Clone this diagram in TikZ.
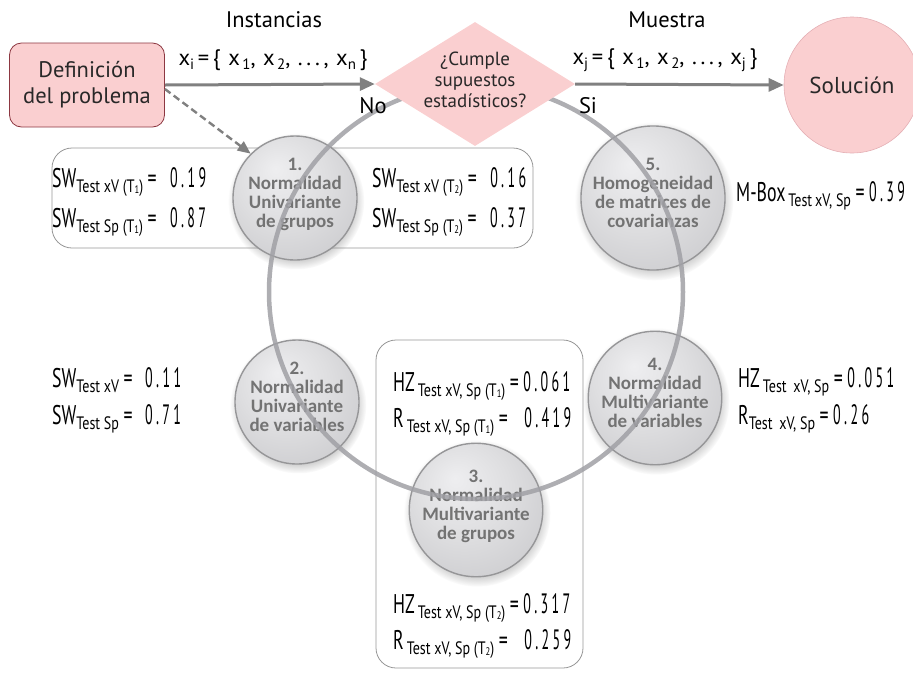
\documentclass[tikz,border=0pt]{standalone}
\usepackage{fontspec}
\setmainfont{PT Sans}
\newfontfamily\cnd[FakeStretch=0.66]{PT Sans}
\newfontfamily\cndsub[FakeStretch=0.78]{PT Sans}
\newfontfamily\cndnum[FakeStretch=0.5,LetterSpace=12]{PT Sans}
\newfontfamily\sphfam{Carlito}
\usetikzlibrary{shapes.geometric,arrows.meta,shadows}

\definecolor{pinkfill}{RGB}{250,207,208}
\definecolor{defedge}{RGB}{140,55,65}
\definecolor{soledge}{RGB}{228,175,180}
\definecolor{flowgray}{RGB}{128,128,128}
\definecolor{ringgray}{RGB}{160,160,165}
\definecolor{boxedge}{RGB}{150,150,150}
\definecolor{sphtext}{RGB}{115,115,115}
\definecolor{sphrim}{RGB}{150,150,152}
\definecolor{sphA}{RGB}{238,238,240}
\definecolor{sphB}{RGB}{222,222,224}
\definecolor{sphC}{RGB}{200,200,203}
\definecolor{sphD}{RGB}{182,182,185}
\definecolor{darktext}{RGB}{40,40,40}

\pgfdeclareradialshading{sphereshade}{\pgfpoint{-8bp}{12bp}}{%
  color(0bp)=(sphA); color(18bp)=(sphB); color(38bp)=(sphC);
  color(46bp)=(sphD); color(50bp)=(sphD)}

% formula fonts
\newcommand\bigf{\cnd\fontsize{27}{29}\selectfont}
\newcommand\subf{\cndsub\fontsize{18}{20}\selectfont}
\newcommand\numf{\cndnum\fontsize{28}{30}\selectfont}
\newcommand\tinyf{\cndsub\fontsize{11}{12}\selectfont}
\newcommand\stat[4]{{\bigf #1}\raisebox{-5pt}{\subf #2}{\bigf\,=\,}\hspace{#3}{\numf #4}}
\newcommand\Tsub[1]{T\raisebox{-1.5pt}{\tinyf #1}}
\newcommand\setsub[1]{\raisebox{-4pt}{\fontsize{15}{17}\selectfont #1}}

\tikzset{
  defbox/.style={draw=defedge, fill=pinkfill, rounded corners=12pt, line width=0.8pt,
    minimum width=155pt, minimum height=84pt, align=center, text=darktext,
    font=\fontsize{22.5}{26}\selectfont},
  solnode/.style={circle, draw=soledge, fill=pinkfill, line width=0.6pt,
    minimum size=136pt, inner sep=0pt, text=darktext, font=\fontsize{23}{26}\selectfont},
  question/.style={diamond, fill=pinkfill, minimum width=200pt, minimum height=124pt,
    inner sep=0pt},
  label/.style={text=black, font=\fontsize{22.5}{26}\selectfont},
  flow/.style={draw=flowgray, line width=3pt, -{Triangle[length=15pt,width=13pt]}},
  dashflow/.style={draw=flowgray, line width=2.4pt, dashed, dash pattern=on 7pt off 4pt,
    -{Triangle[length=13pt,width=11pt]}},
  group/.style={draw=boxedge, line width=0.8pt, rounded corners=20pt},
  sphere/.style={circle, minimum size=124pt, inner sep=0pt, draw=sphrim, line width=1.4pt,
    shade, shading=sphereshade, align=center, text=sphtext, text depth=10pt,
    font=\sphfam\bfseries\fontsize{19}{19}\selectfont,
    circular drop shadow={shadow xshift=1pt, shadow yshift=-3pt, opacity=0.35, fill=black!55}},
  ring/.style={draw=ringgray, line width=4.5pt, opacity=0.85},
  stat/.style={anchor=base west, inner sep=0pt, text=black},
}

\begin{document}
\begin{tikzpicture}[x=1pt,y=-1pt]
\useasboundingbox (0,0) rectangle (913,673);

% grouping frames
\node[group, minimum width=481pt, minimum height=100pt] (g1) at (292.5,198) {};
\node[group, minimum width=207pt, minimum height=328pt] (g3) at (479.5,504) {};

% the five test stages
\node[sphere] (n1) at (295,198) {1.\\Normalidad\\Univariante\\de grupos};
\node[sphere] (n2) at (297,402) {2.\\Normalidad\\Univariante\\de variables};
\node[sphere] (n3) at (476,510) {3.\\Normalidad\\Multivariante\\de grupos};
\node[sphere] (n4) at (655,398) {4.\\Normalidad\\Multivariante\\de variables};
\node[sphere] (n5) at (653,198) {5.\\Homogeneidad\\de matrices de\\covarianzas};

% cycle through the stages
\coordinate (rc) at (476,292);
\draw[ring] (rc) circle[radius=207pt];

% decision flow
\node[defbox] (def) at (87,85) {Definición\\del problema};
\node[question] (q) at (475,84) {};
\node[align=center, text=darktext, font=\fontsize{19}{21}\selectfont] (qt) at (475,80)
  {¿Cumple\\supuestos\\estadísticos?};
\node[solnode] (sol) at (852,85) {Solución};

\draw[flow] (def.east) -- (q.west);
\draw[flow] (q.east) -- (sol.west);
\draw[dashflow] ([yshift=-4pt]def.east) -- (n1.135);

\node[label] (inst) at (274,20) {Instancias};
\node[label] (mues) at (667,20) {Muestra};
\node[label] (xi) at (273,60) {x\setsub{i}\,=\,\{\,\,x\setsub{\,1},\,\,x\setsub{\,2},\,\,.\,.\,.\,,\,\,x\setsub{n}\,\}};
\node[label] (xj) at (665,60) {x\setsub{j}\,=\,\{\,\,x\setsub{\,1},\,\,x\setsub{\,2},\,\,.\,.\,.\,,\,\,x\setsub{j}\,\}};
\node[label] (no) at (373,106) {No};
\node[label] (si) at (588,106) {Si};

% test statistics
\node[stat] (sw1a) at (52,187) {\stat{SW}{Test xV (\Tsub{1})}{9pt}{0.19}};
\node[stat] (sw1b) at (52,227) {\stat{SW}{Test Sp (\Tsub{1})}{9pt}{0.87}};
\node[stat] (sw2a) at (372,187) {\stat{SW}{Test xV (\Tsub{2})}{9pt}{0.16}};
\node[stat] (sw2b) at (372,227) {\stat{SW}{Test Sp (\Tsub{2})}{9pt}{0.37}};
\node[stat] (mbox) at (736,201) {\stat{M-Box}{\,Test\,xV, Sp}{0pt}{0.39}};
\node[stat] (sw3a) at (52,387) {\stat{SW}{Test xV}{8pt}{0.11}};
\node[stat] (sw3b) at (52,424) {\stat{SW}{Test Sp}{8pt}{0.71}};
\node[stat] (hz1) at (393,391) {\stat{HZ}{\,Test xV, Sp (\Tsub{1})}{0pt}{0.061}};
\node[stat] (r1) at (393,427) {\stat{R}{\,Test xV, Sp (\Tsub{1})}{12pt}{0.419}};
\node[stat] (hz2) at (738,387) {\stat{HZ}{\,Test \,xV, Sp}{0pt}{0.051}};
\node[stat] (r2) at (738,424) {\stat{R}{Test \,xV, Sp}{0pt}{0.26}};
\node[stat] (hz3) at (393,613) {\stat{HZ}{\,Test xV, Sp (\Tsub{2})}{0pt}{0.317}};
\node[stat] (r3) at (393,649) {\stat{R}{\,Test xV, Sp (\Tsub{2})}{12pt}{0.259}};
\end{tikzpicture}
\end{document}
